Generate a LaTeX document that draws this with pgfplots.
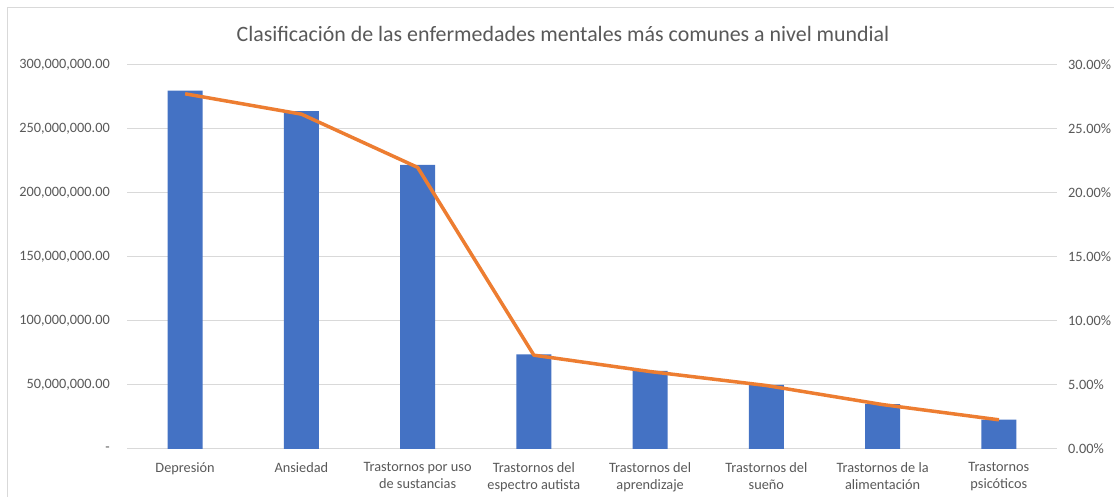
\documentclass[border=0pt]{standalone}
\usepackage{fontspec}
\setmainfont{Carlito}
\usepackage{pgfplots}
\pgfplotsset{compat=1.18}
\usepackage{pgfplotstable}

\definecolor{barblue}{HTML}{4472C4}
\definecolor{lineorange}{HTML}{ED7D31}
\definecolor{txtgray}{HTML}{595959}
\definecolor{gridgray}{HTML}{D9D9D9}

% personas afectadas (n) y porcentaje del total
\pgfplotstableread{
x  n          pct
0  280000000  27.75
1  264000000  26.16
2  222000000  22.00
3  74000000   7.33
4  61000000   6.05
5  50000000   4.96
6  35000000   3.47
7  23000000   2.28
}\datos

\begin{document}
\begin{tikzpicture}
\useasboundingbox (0pt,0pt) rectangle (1114pt,497pt);
\fill[white] (0pt,0pt) rectangle (1114pt,497pt);
\draw[gridgray] (7.5pt,-5pt) -- (7.5pt,489.5pt) -- (1120pt,489.5pt);

\node[font=\fontsize{21.9}{26}\selectfont, text=txtgray, anchor=base]
  at (563pt,455pt) {Clasificación de las enfermedades mentales más comunes a nivel mundial};

\pgfplotsset{every axis/.append style={
  at={(127pt,48pt)}, anchor=south west, scale only axis,
  width=930pt, height=384pt,
  xmin=-0.5, xmax=7.5,
  axis line style={draw=none},
  major tick length=0pt,
  tick label style={font=\fontsize{14.3}{17}\selectfont, text=txtgray},
}}

\begin{axis}[
  ybar, bar width=35pt,
  ymin=0, ymax=300000000,
  scaled y ticks=false,
  ytick={0,50000000,100000000,150000000,200000000,250000000,300000000},
  yticklabels={-,{50,000,000.00},{100,000,000.00},{150,000,000.00},{200,000,000.00},{250,000,000.00},{300,000,000.00}},
  yticklabel style={anchor=east, inner sep=0pt, xshift=-17pt},
  ymajorgrids, grid style={gridgray, line width=1pt},
  xtick={0,...,7},
  xticklabels={Depresión, Ansiedad, Trastornos por uso\\de sustancias, Trastornos del\\espectro autista, Trastornos del\\aprendizaje, Trastornos del\\sueño, Trastornos de la\\alimentación, Trastornos\\psicóticos},
  xticklabel style={align=center, anchor=north, inner sep=0pt, yshift=-13.5pt},
]
\addplot[fill=barblue, draw=none] table[x=x, y=n] {\datos};
\end{axis}

\begin{axis}[
  axis y line*=right, axis x line=none,
  ymin=0, ymax=30,
  ytick={0,5,10,15,20,25,30},
  yticklabels={0.00\%,5.00\%,10.00\%,15.00\%,20.00\%,25.00\%,30.00\%},
  yticklabel style={anchor=west, inner sep=0pt, xshift=11pt},
]
\addplot[lineorange, line width=3.5pt, line join=round, mark=none] table[x=x, y=pct] {\datos};
\end{axis}
\end{tikzpicture}
\end{document}
